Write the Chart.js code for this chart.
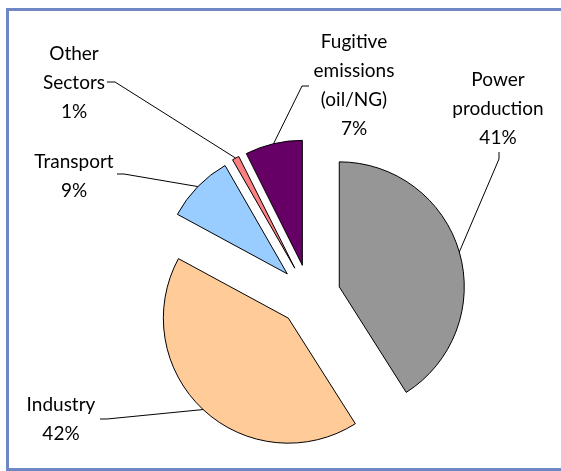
<!DOCTYPE html>
<html>
<head>
<meta charset="utf-8">
<script src="https://cdn.jsdelivr.net/npm/chart.js@4/dist/chart.umd.min.js"></script>
<style>
  html, body { margin: 0; padding: 0; background: #fff; }
  #wrap { position: relative; width: 561px; height: 471px; overflow: hidden; }
  #frame {
    position: absolute; left: 6px; top: 8px; width: 640px; height: 457px;
    border: 3px solid #6f87c4; border-right: none; pointer-events: none;
  }
  canvas { position: absolute; left: 0; top: 0; }
</style>
</head>
<body>
<div id="wrap">
  <canvas id="pie" width="561" height="471"></canvas>
  <div id="frame"></div>
</div>
<script>
// sectors, clockwise from 12 o'clock
const sectors = ['Power production', 'Industry', 'Transport', 'Other Sectors', 'Fugitive emissions (oil/NG)'];
const shares = [41.0, 41.9, 8.8, 0.9, 7.4];
const labelLines = [['Power', 'production'], ['Industry'], ['Transport'], ['Other', 'Sectors'], ['Fugitive', 'emissions', '(oil/NG)']];
const colors = ['#969696', '#ffcc99', '#99ccff', '#ff8080', '#660066'];

const EXPLODE = 31; // px each slice is pulled out
const RADIUS = 125;

// where each label sits + the short first bit of its leader line
const labelPos = [
  {x: 498, y: 80, lead: [[499, 152], [499, 159]]},
  {x: 61, y: 405, lead: [[100, 419], [107, 419]]},
  {x: 74, y: 162, lead: [[117, 174], [124, 174]]},
  {x: 74, y: 54, lead: [[107, 82], [115, 82]]},
  {x: 354, y: 42, lead: [[309, 86], [302, 86]]}
];

// built-in offset trims/grows thin slices, so just slide each arc out along its bisector instead
const explode = {
  id: 'explode',
  afterDatasetUpdate(chart, args) {
    args.meta.data.forEach(arc => {
      const mid = (arc.startAngle + arc.endAngle) / 2;
      arc.x += Math.cos(mid) * EXPLODE;
      arc.y += Math.sin(mid) * EXPLODE;
    });
  }
};

const leaderLabels = {
  id: 'leaderLabels',
  afterDatasetsDraw(chart) {
    const ctx = chart.ctx;
    const arcs = chart.getDatasetMeta(0).data;
    ctx.save();
    ctx.strokeStyle = '#000';
    ctx.lineWidth = 1;
    ctx.fillStyle = '#000';
    ctx.font = '19px Lato';
    ctx.textAlign = 'center';
    ctx.textBaseline = 'middle';
    arcs.forEach((arc, i) => {
      const p = arc.getProps(['x', 'y', 'startAngle', 'endAngle', 'outerRadius'], true);
      const mid = (p.startAngle + p.endAngle) / 2;
      const ex = p.x + Math.cos(mid) * p.outerRadius;
      const ey = p.y + Math.sin(mid) * p.outerRadius;
      const pos = labelPos[i];
      ctx.beginPath();
      ctx.moveTo(pos.lead[0][0], pos.lead[0][1]);
      ctx.lineTo(pos.lead[1][0], pos.lead[1][1]);
      ctx.lineTo(ex, ey);
      ctx.stroke();
      const lines = labelLines[i].concat([Math.round(shares[i]) + '%']);
      lines.forEach((t, k) => ctx.fillText(t, pos.x, pos.y + k * 29));
    });
    ctx.restore();
  }
};

new Chart(document.getElementById('pie'), {
  type: 'pie',
  data: {
    labels: sectors,
    datasets: [{
      data: shares,
      backgroundColor: colors,
      borderColor: '#000',
      borderWidth: 1
    }]
  },
  options: {
    responsive: false,
    animation: false,
    radius: RADIUS,
    layout: { padding: { left: 60, right: 2, top: 122, bottom: 2 } },
    plugins: {
      legend: { display: false },
      tooltip: { enabled: false }
    }
  },
  plugins: [explode, leaderLabels]
});
</script>
</body>
</html>
